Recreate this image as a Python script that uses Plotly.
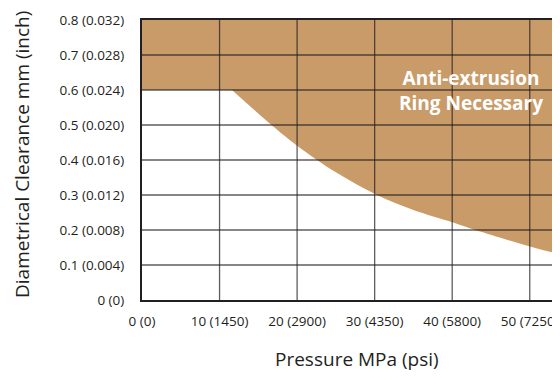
import plotly.graph_objects as go

# axis ticks
x_ticks = [0, 10, 20, 30, 40, 50]
x_labels = ["0 (0)", "10 (1450)", "20 (2900)", "30 (4350)", "40 (5800)", "50 (7250)"]
y_ticks = [0, 0.1, 0.2, 0.3, 0.4, 0.5, 0.6, 0.7, 0.8]
y_labels = ["0 (0)", "0.1 (0.004)", "0.2 (0.008)", "0.3 (0.012)", "0.4 (0.016)",
            "0.5 (0.020)", "0.6 (0.024)", "0.7 (0.028)", "0.8 (0.032)"]

# limit curve (pressure MPa vs clearance mm)
curve_x = [11.6, 16.7, 20.0, 25.0, 30.3, 35.0, 40.0, 43.0, 50.0, 54.0]
curve_y = [0.6, 0.5, 0.441, 0.365, 0.30, 0.257, 0.222, 0.2, 0.153, 0.13]
ceiling = 0.6
x_max = 53.9
y_max = 0.8

ink = "#231F20"
tan = "#C99B69"
font = "Open Sans, Noto Sans, sans-serif"

fig = go.Figure()

hidden = dict(width=0, color=tan)

# band above the 0.6 mm limit
fig.add_trace(go.Scatter(x=[0, curve_x[-1]], y=[ceiling, ceiling], mode="lines",
                         line=hidden, hoverinfo="skip", showlegend=False))
fig.add_trace(go.Scatter(x=[0, curve_x[-1]], y=[y_max, y_max], mode="lines",
                         line=hidden, fill="tonexty", fillcolor=tan,
                         hoverinfo="skip", showlegend=False))
# region between the limit curve and 0.6 mm
fig.add_trace(go.Scatter(x=[curve_x[0], curve_x[-1]], y=[ceiling, ceiling], mode="lines",
                         line=hidden, hoverinfo="skip", showlegend=False))
fig.add_trace(go.Scatter(x=curve_x, y=curve_y, mode="lines",
                         line=dict(width=0, shape="spline", smoothing=1, color=tan),
                         fill="tonexty", fillcolor=tan,
                         hoverinfo="skip", showlegend=False))

# grid drawn on top of the fill
gx, gy = [], []
for v in x_ticks[1:]:
    gx += [v, v, None]
    gy += [0, y_max, None]
for v in y_ticks[1:-1]:
    gx += [0, x_max, None]
    gy += [v, v, None]
fig.add_trace(go.Scatter(
    x=gx, y=gy, mode="lines",
    line=dict(color="rgba(35,31,32,0.72)", width=1.3),
    hoverinfo="skip", showlegend=False))

fig.add_annotation(
    x=42.4, y=0.6, xref="x", yref="y",
    text="<b>Anti-extrusion<br>Ring Necessary</b>",
    showarrow=False, font=dict(family=font, size=19, color="white"))

# axis titles
fig.add_annotation(
    x=-0.287, y=0.518, xref="paper", yref="paper", textangle=-90,
    text="Diametrical Clearance mm (inch)", showarrow=False,
    xanchor="center", yanchor="middle",
    font=dict(family=font, size=19, color=ink))
fig.add_annotation(
    x=0.514, y=-0.211, xref="paper", yref="paper",
    text="Pressure MPa (psi)", showarrow=False,
    xanchor="center", yanchor="middle",
    font=dict(family=font, size=19, color=ink))

fig.update_xaxes(
    range=[0, x_max], tickvals=x_ticks, ticktext=x_labels,
    showgrid=False, zeroline=False,
    showline=True, linewidth=2, linecolor=ink, mirror=True,
    ticks="", ticklabelstandoff=8,
    tickfont=dict(family=font, size=13.5, color=ink))
fig.update_yaxes(
    range=[0, y_max], tickvals=y_ticks, ticktext=y_labels,
    showgrid=False, zeroline=False,
    showline=True, linewidth=2, linecolor=ink,
    ticks="", ticklabelstandoff=13,
    tickfont=dict(family=font, size=13.5, color=ink))

# page body has an 8px margin, so size the figure to fit the 560x379 window
fig.update_layout(
    width=552, height=363,
    margin=dict(l=134, r=0, t=12, b=71),
    plot_bgcolor="white", paper_bgcolor="white",
    showlegend=False)

fig.write_html("out.html")
